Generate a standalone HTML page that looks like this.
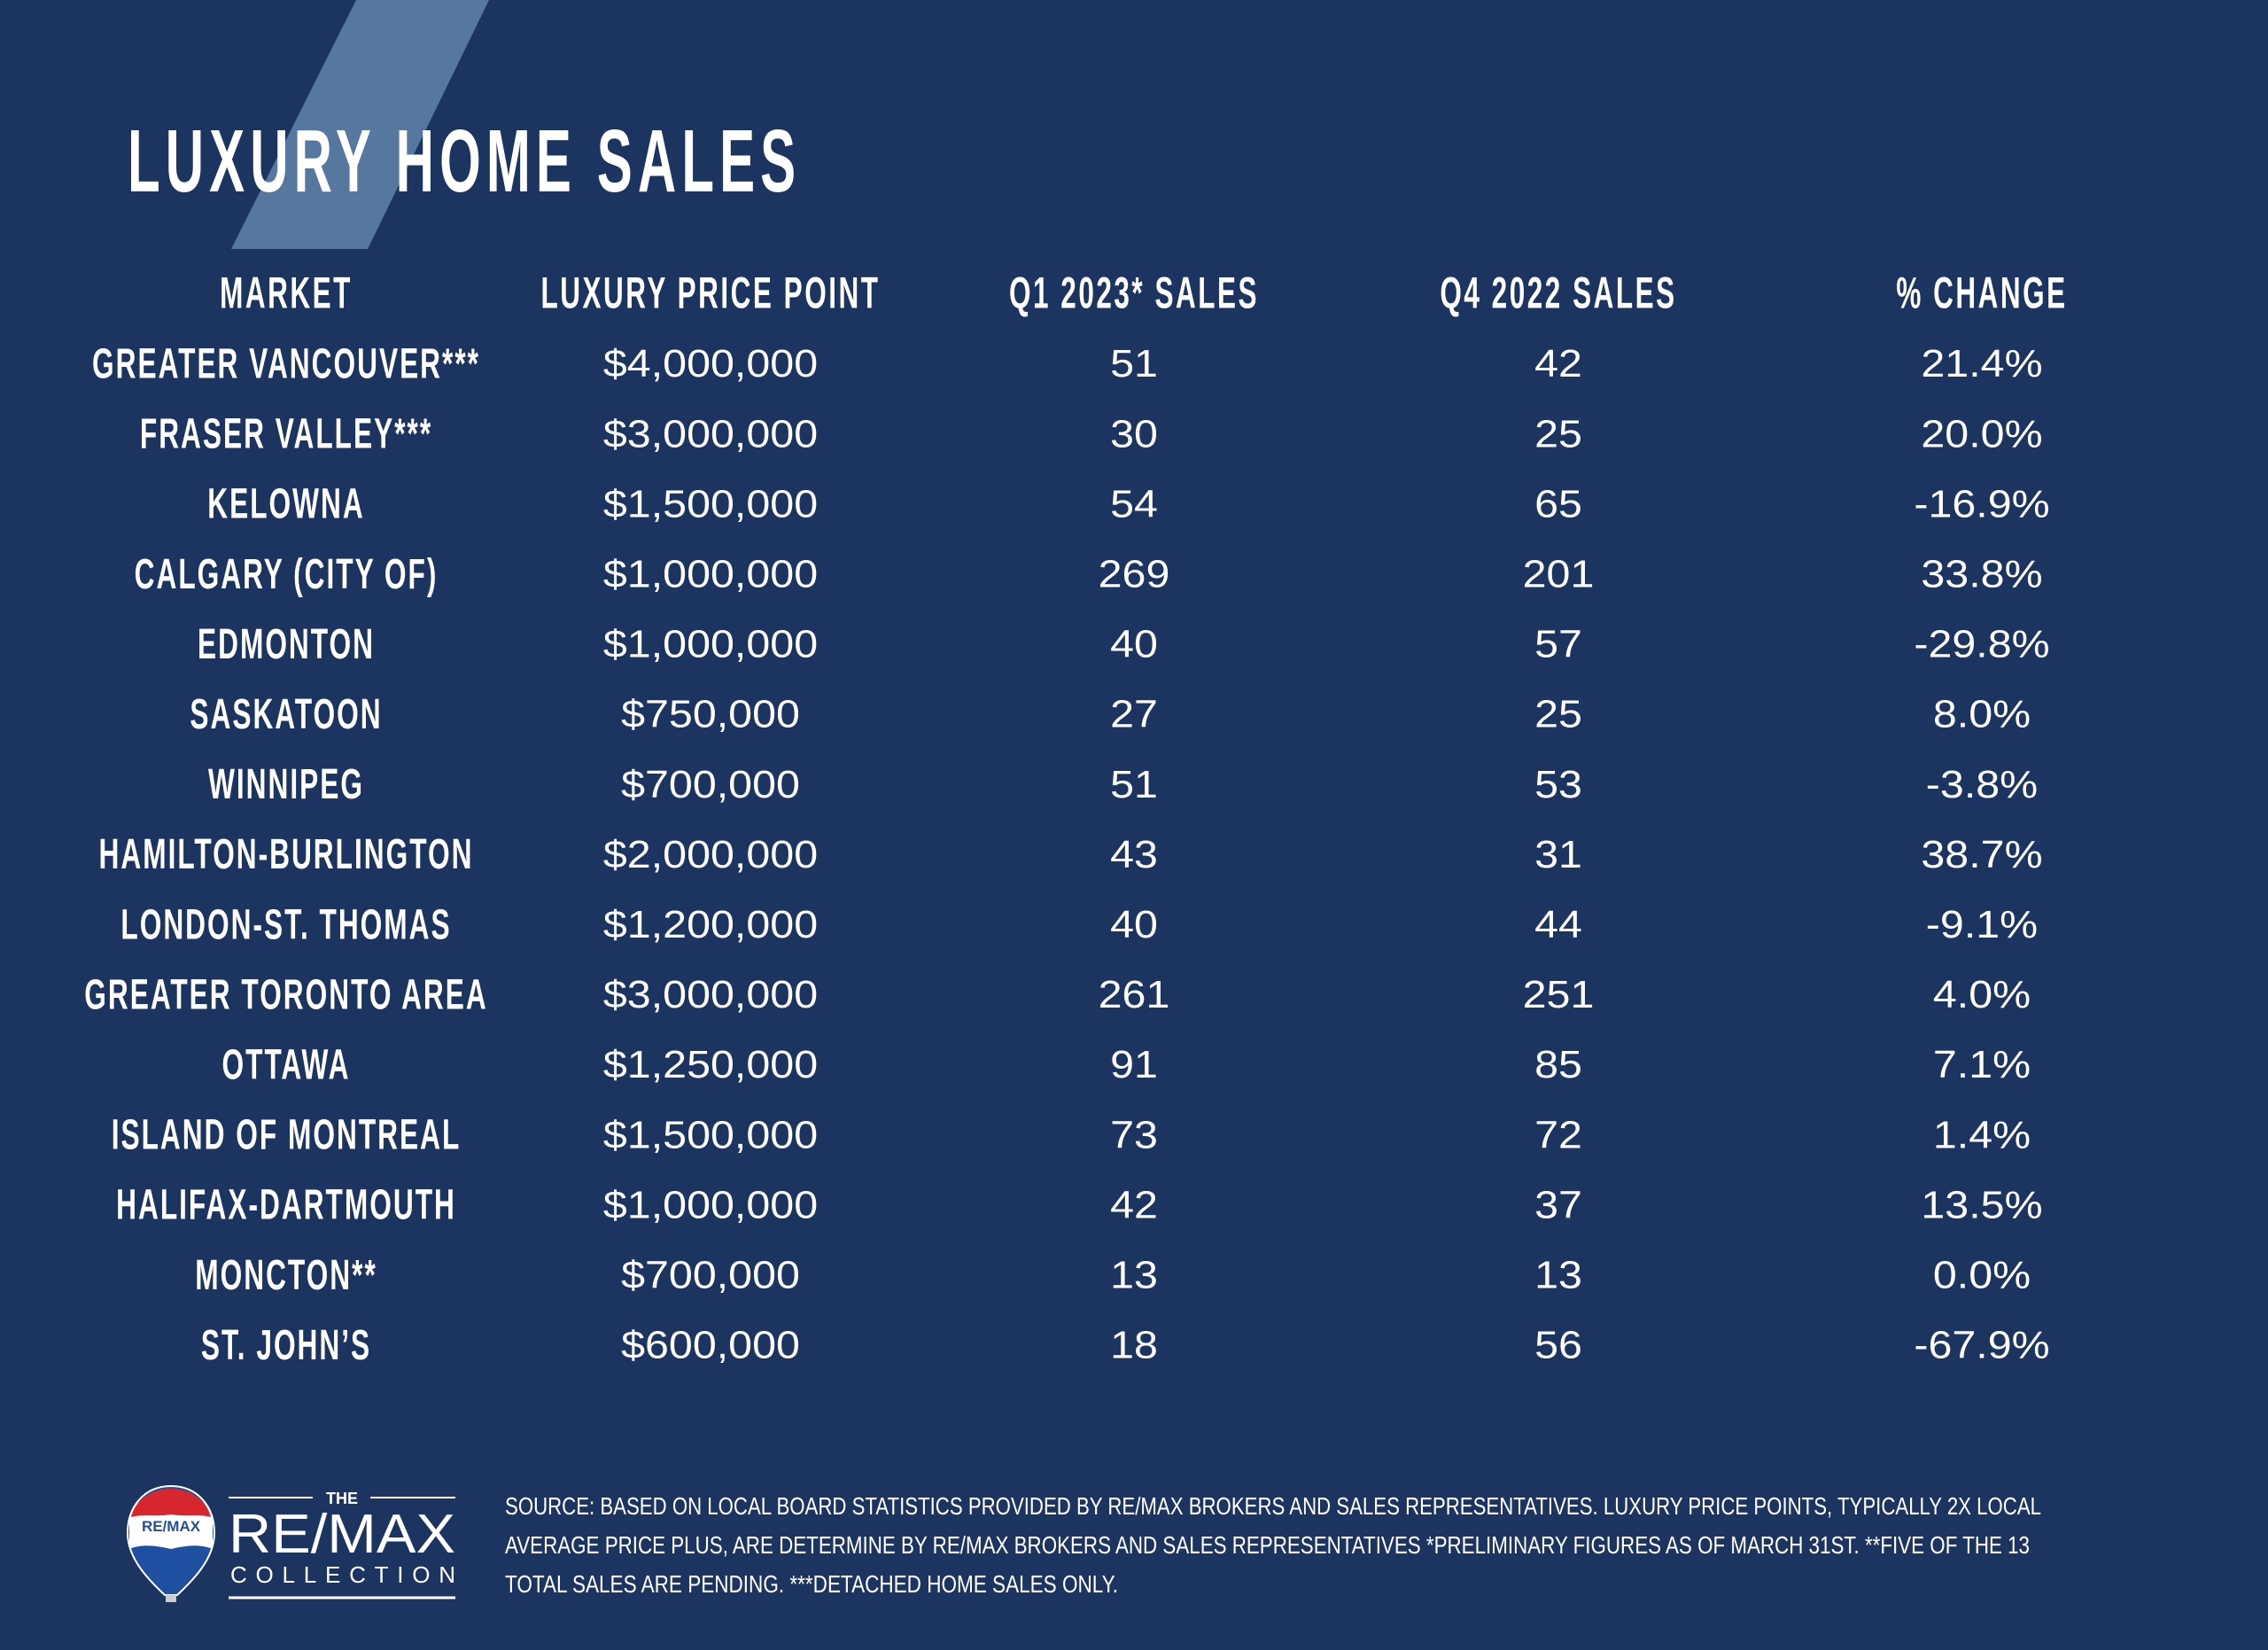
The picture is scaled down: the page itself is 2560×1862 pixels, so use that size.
<!DOCTYPE html>
<html><head><meta charset="utf-8"><title>Luxury Home Sales</title>
<style>
html,body{margin:0;padding:0;background:#1c3560;}
svg{display:block;}
</style></head>
<body>
<svg id="chart" width="2560" height="1862" viewBox="0 0 2560 1862" xmlns="http://www.w3.org/2000/svg">
  <rect x="0" y="0" width="2560" height="1862" fill="#1c3560"/>
  <polygon points="402,0 552,0 415,281 261,281" fill="#56789e"/>
  <g id="titleG" transform="translate(144,216) scale(0.6,1)"></g>
  <g id="headG"></g>
  <g id="rowsG"></g>
  <g>
    <path d="M193,1677 C163,1677 144,1700 144,1730 C144,1760 170,1785 186,1800 L200,1800 C216,1785 242,1760 242,1730 C242,1700 223,1677 193,1677 Z" fill="#1f4fa0" stroke="#fff" stroke-width="2"/>
    <path d="M146,1718 C146,1700 166,1681 193,1681 C220,1681 240,1700 240,1718 L240,1748 C225,1742 210,1744 193,1748 C176,1744 160,1742 146,1748 Z" fill="#ffffff"/>
    <path d="M148,1712 C152,1694 170,1680 193,1680 C216,1680 234,1694 238,1712 C225,1708 210,1712 193,1709 C176,1712 161,1708 148,1712 Z" fill="#d8262f"/>
    <text x="193" y="1728" text-anchor="middle" font-family="Liberation Sans, sans-serif" font-weight="bold" font-size="17" fill="#1f4fa0">RE/MAX</text>
    <rect x="187" y="1800" width="12" height="8" fill="#ccc"/>
    <line x1="258" y1="1690" x2="353" y2="1690" stroke="#fff" stroke-width="2"/>
    <line x1="418" y1="1690" x2="514" y2="1690" stroke="#fff" stroke-width="2"/>
    <text x="386" y="1697" text-anchor="middle" font-family="Liberation Sans, sans-serif" font-weight="bold" font-size="18" fill="#fff">THE</text>
    <text x="258" y="1752" textLength="256" lengthAdjust="spacingAndGlyphs" font-family="Liberation Sans, sans-serif" font-size="62" fill="#fff">RE/MAX</text>
    <text x="260" y="1786" textLength="254" lengthAdjust="spacing" font-family="Liberation Sans, sans-serif" font-size="26" fill="#fff">COLLECTION</text>
    <line x1="258" y1="1803" x2="514" y2="1803" stroke="#fff" stroke-width="3"/>
  </g>
  <g id="noteG"></g>
</svg>
<script>
const headers = ["MARKET","LUXURY PRICE POINT","Q1 2023* SALES","Q4 2022 SALES","% CHANGE"];
const markets = ["GREATER VANCOUVER***","FRASER VALLEY***","KELOWNA","CALGARY (CITY OF)","EDMONTON","SASKATOON","WINNIPEG","HAMILTON-BURLINGTON","LONDON-ST. THOMAS","GREATER TORONTO AREA","OTTAWA","ISLAND OF MONTREAL","HALIFAX-DARTMOUTH","MONCTON**","ST. JOHN\u2019S"];
const pricePoints = ["$4,000,000","$3,000,000","$1,500,000","$1,000,000","$1,000,000","$750,000","$700,000","$2,000,000","$1,200,000","$3,000,000","$1,250,000","$1,500,000","$1,000,000","$700,000","$600,000"];
const q1Sales = [51,30,54,269,40,27,51,43,40,261,91,73,42,13,18];
const q4Sales = [42,25,65,201,57,25,53,31,44,251,85,72,37,13,56];
const pctChange = ["21.4%","20.0%","-16.9%","33.8%","-29.8%","8.0%","-3.8%","38.7%","-9.1%","4.0%","7.1%","1.4%","13.5%","0.0%","-67.9%"];
const noteLines = ["SOURCE: BASED ON LOCAL BOARD STATISTICS PROVIDED BY RE/MAX BROKERS AND SALES REPRESENTATIVES. LUXURY PRICE POINTS, TYPICALLY 2X LOCAL","AVERAGE PRICE PLUS, ARE DETERMINE BY RE/MAX BROKERS AND SALES REPRESENTATIVES *PRELIMINARY FIGURES AS OF MARCH 31ST. **FIVE OF THE 13","TOTAL SALES ARE PENDING. ***DETACHED HOME SALES ONLY."];

const NS = "http://www.w3.org/2000/svg";
const colX = [323, 802, 1280, 1759, 2237];
const rowY0 = 410, rowStep = 79.1;
const rowY = i => rowY0 + i * rowStep;

function txt(parent, x, y, s, size, bold, sx, anchor) {
  const g = document.createElementNS(NS, "g");
  g.setAttribute("transform", "translate(" + x + "," + y + ") scale(" + sx + ",1)");
  const t = document.createElementNS(NS, "text");
  t.setAttribute("x", 0);
  t.setAttribute("y", 0);
  t.setAttribute("text-anchor", anchor || "middle");
  t.setAttribute("dominant-baseline", "central");
  t.setAttribute("font-family", "Liberation Sans, sans-serif");
  t.setAttribute("font-size", size);
  if (bold) t.setAttribute("font-weight", "bold");
  t.setAttribute("fill", "#ffffff");
  t.textContent = s;
  g.appendChild(t);
  parent.appendChild(g);
  return g;
}

// title
const titleG = document.getElementById("titleG");
const tt = document.createElementNS(NS, "text");
tt.setAttribute("x", 0);
tt.setAttribute("y", 0);
tt.setAttribute("textLength", 1257);
tt.setAttribute("lengthAdjust", "spacing");
tt.setAttribute("font-family", "Liberation Sans, sans-serif");
tt.setAttribute("font-weight", "bold");
tt.setAttribute("font-size", "100");
tt.setAttribute("fill", "#ffffff");
tt.textContent = "LUXURY HOME SALES";


titleG.appendChild(tt);

// headers
const headG = document.getElementById("headG");
headers.forEach((h, c) => {
  const g = txt(headG, colX[c], 330, h, 50, true, 0.63, "middle");
  
  
  g.firstChild.setAttribute("letter-spacing", "4");
});

// rows
const rowsG = document.getElementById("rowsG");
markets.forEach((m, i) => {
  const y = rowY(i);
  const row = document.createElementNS(NS, "g");
  
  
  rowsG.appendChild(row);
  const a = txt(row, colX[0], y, m, 48, true, 0.66, "middle");
  a.firstChild.setAttribute("letter-spacing", "3");
  
  
  const b = txt(row, colX[1], y, pricePoints[i], 44, false, 1.1, "middle");
  
  
  const c = txt(row, colX[2], y, String(q1Sales[i]), 44, false, 1.1, "middle");
  
  
  const d = txt(row, colX[3], y, String(q4Sales[i]), 44, false, 1.1, "middle");
  
  
  const e = txt(row, colX[4], y, pctChange[i], 44, false, 1.1, "middle");
  
  
});

// source note
const noteG = document.getElementById("noteG");
const noteW = [1734, 1721, 692];
noteLines.forEach((s, i) => {
  const t = document.createElementNS(NS, "text");
  t.setAttribute("x", 570);
  t.setAttribute("y", 1709 + i * 44);
  t.setAttribute("textLength", noteW[i]);
  t.setAttribute("lengthAdjust", "spacingAndGlyphs");
  t.setAttribute("font-family", "Liberation Sans, sans-serif");
  t.setAttribute("font-size", "28");
  t.setAttribute("fill", "#ffffff");
  t.textContent = s;
  
  
  noteG.appendChild(t);
});
</script>
</body></html>
